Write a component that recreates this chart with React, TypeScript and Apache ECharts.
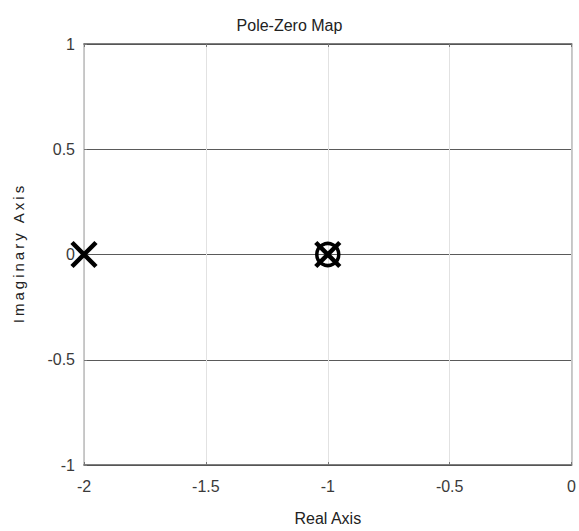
import React, { useEffect, useRef } from "react";
import * as echarts from "echarts";

const poleReal = [-2, -1];
const poleImag = [0, 0];
const zeroReal = [-1];
const zeroImag = [0];
const xTicks = [-2, -1.5, -1, -0.5, 0];
const yTicks = [-1, -0.5, 0, 0.5, 1];

const FONT = "'Liberation Sans Narrow', 'Liberation Sans', Arial, sans-serif";

export default function App() {
  const ref = useRef<HTMLDivElement>(null);
  useEffect(() => {
    if (!ref.current) return;
    const chart = echarts.init(ref.current, null, { renderer: "svg" });
    const poles = poleReal.map((r, i) => [r, poleImag[i]]);
    const zeros = zeroReal.map((r, i) => [r, zeroImag[i]]);
    const labelStyle = { color: "#3a3a3a", fontSize: 16, fontFamily: FONT };
    chart.setOption({
      animation: false,
      backgroundColor: "#ffffff",
      title: {
        text: "Pole-Zero Map",
        left: "center",
        top: 12,
        textStyle: { color: "#222", fontSize: 16, fontWeight: "normal", fontFamily: FONT },
      },
      grid: { left: 84, right: 6, top: 44, bottom: 65, containLabel: false },
      xAxis: [
        {
          type: "value",
          min: xTicks[0],
          max: xTicks[xTicks.length - 1],
          interval: 0.5,
          position: "bottom",
          name: "Real Axis",
          nameLocation: "middle",
          nameGap: 45,
          nameTextStyle: { color: "#222", fontSize: 16, fontFamily: FONT },
          axisLine: { show: true, onZero: false, lineStyle: { color: "#555", width: 1.5 } },
          axisTick: { show: true, inside: true, length: 3, lineStyle: { color: "#777" } },
          axisLabel: { ...labelStyle, margin: 13, formatter: (v: number) => String(v) },
          splitLine: { show: true, lineStyle: { color: "#e2e2e2", width: 1 } },
        },
        {
          type: "value",
          min: xTicks[0],
          max: xTicks[xTicks.length - 1],
          interval: 0.5,
          position: "top",
          axisLine: { show: true, onZero: false, lineStyle: { color: "#555", width: 1.5 } },
          axisTick: { show: true, inside: true, length: 3, lineStyle: { color: "#777" } },
          axisLabel: { show: false },
          splitLine: { show: false },
        },
      ],
      yAxis: [
        {
          type: "value",
          min: yTicks[0],
          max: yTicks[yTicks.length - 1],
          interval: 0.5,
          position: "left",
          name: "Imaginary Axis".split("").join("\u2009"),
          nameLocation: "middle",
          nameGap: 58,
          nameRotate: 90,
          nameTextStyle: { color: "#222", fontSize: 15, fontFamily: FONT },
          axisLine: { show: true, onZero: false, lineStyle: { color: "#bbb", width: 1.5 } },
          axisTick: { show: true, inside: true, length: 3, lineStyle: { color: "#777" } },
          axisLabel: { ...labelStyle, margin: 9, formatter: (v: number) => String(v) },
          splitLine: { show: true, lineStyle: { color: "#5a5a5a", width: 1.2 } },
        },
        {
          type: "value",
          min: yTicks[0],
          max: yTicks[yTicks.length - 1],
          interval: 0.5,
          position: "right",
          axisLine: { show: true, onZero: false, lineStyle: { color: "#bbb", width: 1.5 } },
          axisTick: { show: false },
          axisLabel: { show: false },
          splitLine: { show: false },
        },
      ],
      series: [
        {
          type: "custom",
          name: "Zeros",
          data: zeros,
          clip: false,
          z: 10,
          renderItem: (params: any, api: any) => {
            const p = api.coord([api.value(0), api.value(1)]);
            return {
              type: "circle",
              shape: { cx: p[0], cy: p[1], r: 11 },
              style: { fill: "none", stroke: "#000", lineWidth: 3.5 },
            };
          },
        },
        {
          type: "custom",
          name: "Poles",
          data: poles,
          clip: false,
          z: 11,
          renderItem: (params: any, api: any) => {
            const p = api.coord([api.value(0), api.value(1)]);
            const h = 12;
            const st = { stroke: "#000", lineWidth: 4.5 };
            return {
              type: "group",
              children: [
                { type: "line", shape: { x1: p[0] - h, y1: p[1] - h, x2: p[0] + h, y2: p[1] + h }, style: st },
                { type: "line", shape: { x1: p[0] - h, y1: p[1] + h, x2: p[0] + h, y2: p[1] - h }, style: st },
              ],
            };
          },
        },
      ],
    });
    return () => chart.dispose();
  }, []);
  return (
    <div
      ref={ref}
      style={{ position: "absolute", left: 0, top: 0, width: 579, height: 531 }}
    />
  );
}
